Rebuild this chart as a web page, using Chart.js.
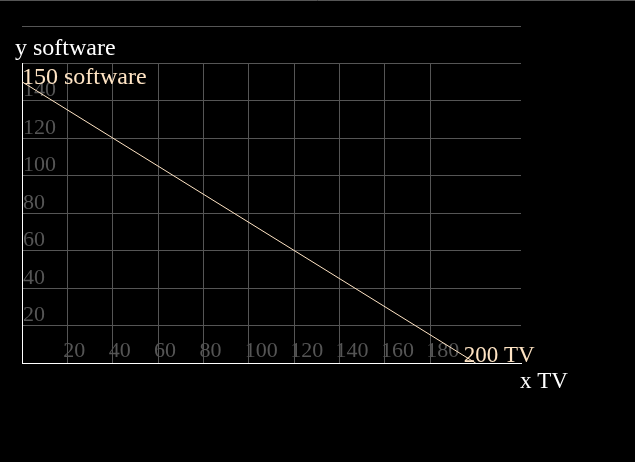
<!DOCTYPE html>
<html>
<head>
<meta charset="utf-8">
<script src="https://cdn.jsdelivr.net/npm/chart.js@4/dist/chart.umd.min.js"></script>
<style>
  html, body { margin: 0; padding: 0; background: #000; }
  #wrap { width: 635px; height: 462px; }
</style>
</head>
<body>
<div id="wrap"><canvas id="chart" width="635" height="462"></canvas></div>
<script>
// data
const tvValues = [0, 200];
const softwareValues = [150, 0];
const pointLabels = ['150 software', '200 TV'];
const xTickValues = [20, 40, 60, 80, 100, 120, 140, 160, 180];
const yTickValues = [20, 40, 60, 80, 100, 120, 140, 160];
const yTickShown = [20, 40, 60, 80, 100, 120, 140];
const xTitle = 'x TV';
const yTitle = 'y software';

const gridGray = '#555555';
const peach = '#ffe4c4';
const serif = "'Liberation Serif', 'DejaVu Serif', serif";

// extra lines + titles + point labels
const decorPlugin = {
    id: 'decor',
    afterDraw(chart) {
        const ctx = chart.ctx;
        const area = chart.chartArea;
        const x = chart.scales.x;
        const y = chart.scales.y;
        ctx.save();
        ctx.strokeStyle = gridGray;
        ctx.lineWidth = 1;
        ctx.beginPath();
        ctx.moveTo(0, 0.5);
        ctx.lineTo(chart.width, 0.5);
        let y180 = Math.round(y.getPixelForValue(180)) + 0.5;
        ctx.moveTo(area.left, y180);
        ctx.lineTo(area.right, y180);
        ctx.stroke();

        ctx.textBaseline = 'alphabetic';
        ctx.textAlign = 'left';
        ctx.fillStyle = '#ffffff';
        ctx.font = '24px ' + serif;
        ctx.fillText(yTitle, area.left - 7, y.getPixelForValue(160) - 8.5);
        ctx.font = '23px ' + serif;
        ctx.fillText(xTitle, area.right - 1, area.bottom + 24.5);

        let pts = chart.getDatasetMeta(0).data;
        ctx.fillStyle = peach;
        ctx.font = '24px ' + serif;
        ctx.fillText(pointLabels[0], pts[0].x, pts[0].y + 2);
        ctx.font = '23px ' + serif;
        ctx.fillText(pointLabels[1], pts[1].x - 12, pts[1].y - 1.5);
        ctx.restore();
    }
};

new Chart(document.querySelector('#chart'), {
    type: 'scatter',
    data: {
        datasets: [{
            data: tvValues.map((v, i) => ({ x: v, y: softwareValues[i] })),
            showLine: true,
            borderColor: peach,
            borderWidth: 1,
            pointRadius: 0,
            fill: false
        }]
    },
    options: {
        responsive: false,
        animation: false,
        layout: { padding: { left: 20, top: 63, right: 114, bottom: 99 } },
        plugins: { legend: { display: false }, tooltip: { enabled: false } },
        scales: {
            x: {
                type: 'linear',
                min: 0,
                max: 220,
                afterBuildTicks: (s) => { s.ticks = xTickValues.map(v => ({ value: v })); },
                grid: { color: gridGray, drawTicks: false },
                border: { color: '#ffffff', width: 1 },
                ticks: {
                    mirror: true,
                    align: 'start',
                    labelOffset: -4,
                    padding: -1,
                    color: gridGray,
                    font: { family: serif, size: 22 }
                }
            },
            y: {
                type: 'linear',
                min: 0,
                max: 160,
                afterBuildTicks: (s) => { s.ticks = yTickValues.map(v => ({ value: v })); },
                grid: { color: gridGray, drawTicks: false },
                border: { color: '#ffffff', width: 1 },
                ticks: {
                    mirror: true,
                    padding: 1,
                    labelOffset: -10,
                    color: gridGray,
                    font: { family: serif, size: 22 },
                    callback: (v) => yTickShown.includes(v) ? String(v) : ''
                }
            }
        }
    },
    plugins: [decorPlugin]
});
</script>
</body>
</html>
